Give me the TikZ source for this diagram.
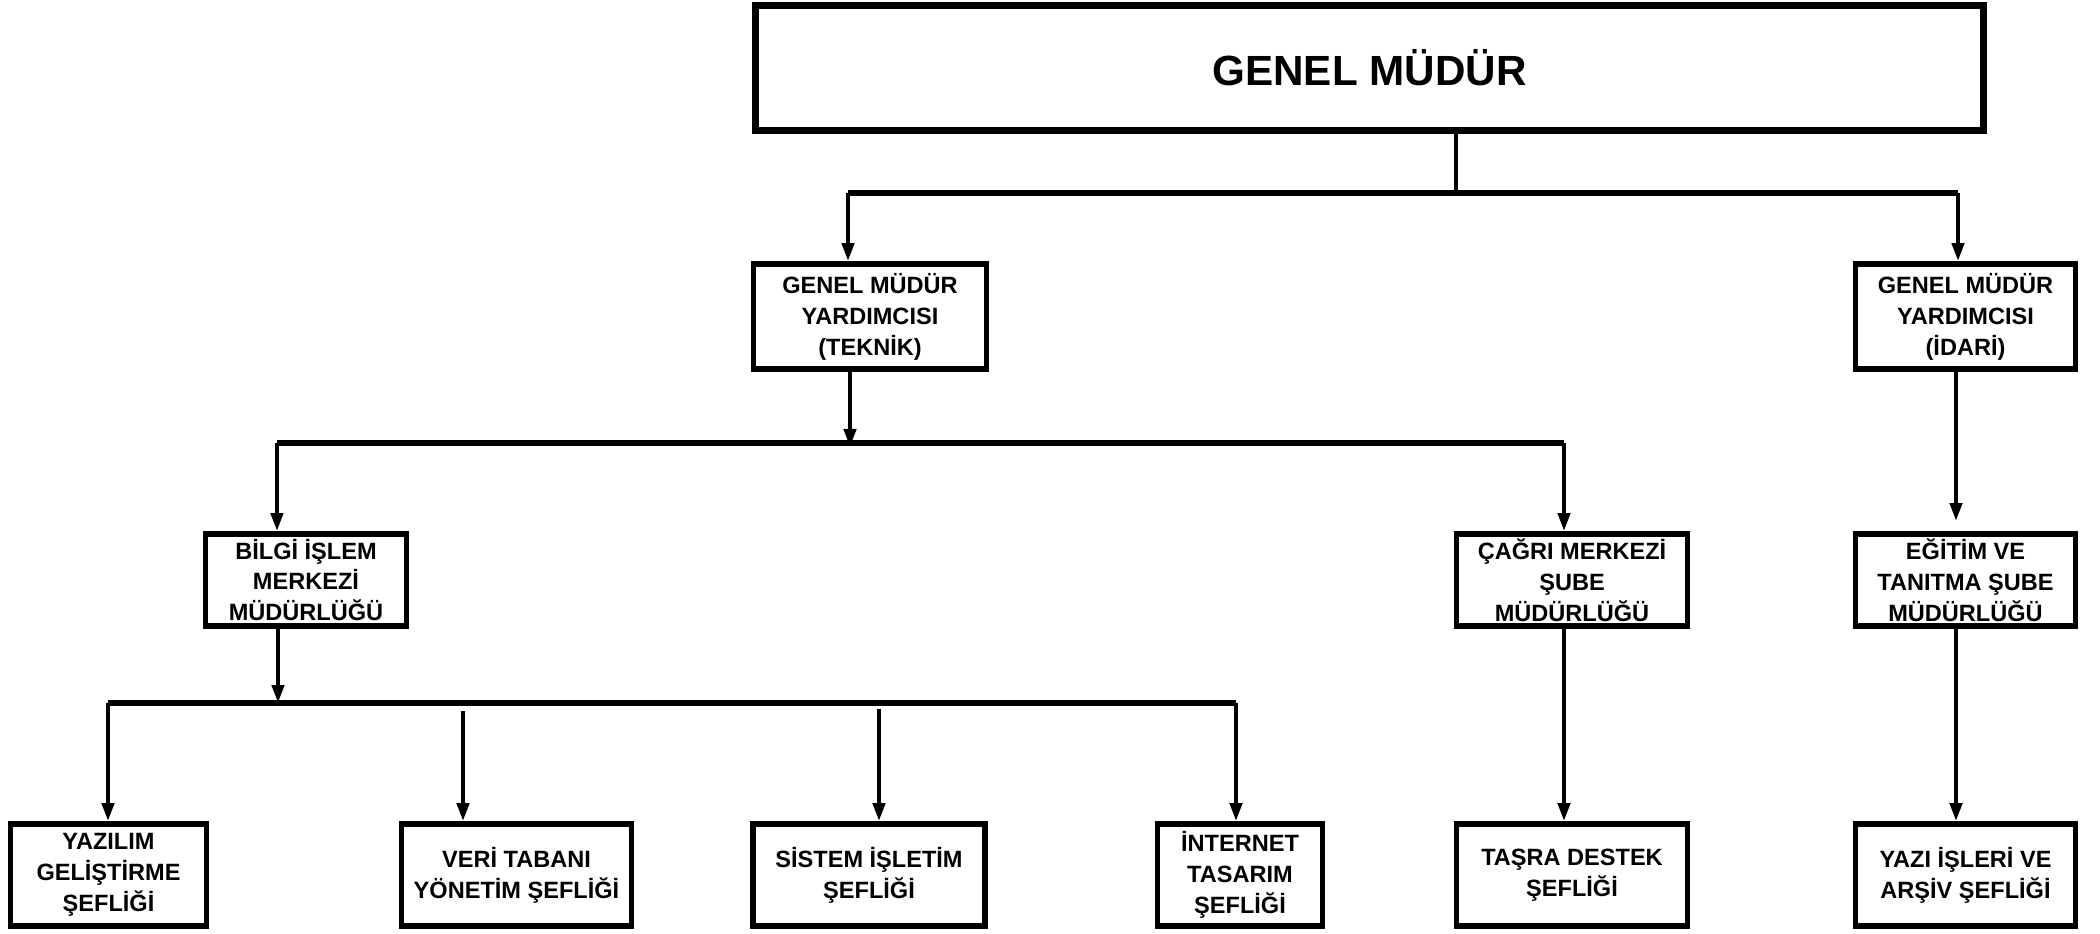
\documentclass[tikz,border=0pt]{standalone}
\usepackage{fontspec}
\setmainfont{Liberation Sans}
\usepackage{tikz}
\usetikzlibrary{positioning, arrows.meta, calc}

\begin{document}
\begin{tikzpicture}[
    x=0.01cm, y=-0.01cm,
    every node/.style={align=center, font=\bfseries\fontsize{6.7}{8.8}\selectfont, inner sep=0pt},
    box/.style={draw, line width=1.6pt, minimum height=0.92cm},
    lowbox/.style={box, minimum height=1.02cm},
    arrow/.style={-{Triangle[length=1.8mm, width=1.2mm]}, line width=1.2pt},
    bus/.style={line width=1.5pt}
]
\useasboundingbox (0,0) rectangle (2100,933);

% Spitze
\node[draw, line width=2pt, minimum width=12.28cm, minimum height=1.24cm,
      font=\bfseries\fontsize{12}{14}\selectfont] (gm) at (1369.5,68) {GENEL MÜDÜR};

% Stellvertreter
\node[box, minimum width=2.33cm, minimum height=1.05cm] (teknik) at (870,316.5) {
    GENEL MÜDÜR\\
    YARDIMCISI\\
    (TEKNİK)
};
\node[box, minimum width=2.2cm, minimum height=1.05cm] (idari) at (1965.5,316.5) {
    GENEL MÜDÜR\\
    YARDIMCISI\\
    (İDARİ)
};

% Verbindung oben
\coordinate (b1m) at (1456,193);
\coordinate (b1l) at (848,193);
\coordinate (b1r) at (1958,193);
\draw[line width=1.2pt] (gm.south -| b1m) -- (b1m);
\draw[bus] (b1l) -- (b1r);
\draw[arrow] (b1l) -- (b1l |- teknik.north);
\draw[arrow] (b1r) -- (b1r |- idari.north);

% Mittlere Ebene
\node[box, minimum width=2.01cm] (bilgi) at (306,580) {
    BİLGİ İŞLEM\\
    MERKEZİ\\
    MÜDÜRLÜĞÜ
};
\node[box, minimum width=2.31cm] (cagri) at (1572,580) {
    ÇAĞRI MERKEZİ\\
    ŞUBE\\
    MÜDÜRLÜĞÜ
};
\node[box, minimum width=2.2cm] (egitim) at (1965.5,580) {
    EĞİTİM VE\\
    TANITMA ŞUBE\\
    MÜDÜRLÜĞÜ
};

% Verbindung Teknik
\coordinate (b2m) at (850,447);
\coordinate (b2l) at (277,443);
\coordinate (b2r) at (1564,443);
\draw[arrow] (teknik.south -| b2m) -- (b2m);
\draw[bus] (b2l) -- (b2r);
\draw[arrow] (b2l) -- (b2l |- bilgi.north);
\draw[arrow] (b2r) -- (b2r |- cagri.north);

% Verbindung Idari
\coordinate (e1) at (1956,521);
\draw[arrow] (idari.south -| e1) -- (e1);

% Untere Ebene
\node[lowbox, minimum width=1.96cm] (yazilim) at (108.5,875) {
    YAZILIM\\
    GELİŞTİRME\\
    ŞEFLİĞİ
};
\node[lowbox, minimum width=2.3cm] (veri) at (516.5,875) {
    VERİ TABANI\\
    YÖNETİM ŞEFLİĞİ
};
\node[lowbox, minimum width=2.32cm] (sistem) at (869,875) {
    SİSTEM İŞLETİM\\
    ŞEFLİĞİ
};
\node[lowbox, minimum width=1.65cm] (internet) at (1240,875) {
    İNTERNET\\
    TASARIM\\
    ŞEFLİĞİ
};
\node[lowbox, minimum width=2.31cm] (tasra) at (1572,875) {
    TAŞRA DESTEK\\
    ŞEFLİĞİ
};
\node[lowbox, minimum width=2.2cm] (yazi) at (1965.5,875) {
    YAZI İŞLERİ VE\\
    ARŞİV ŞEFLİĞİ
};

% Verbindung Bilgi Islem
\coordinate (b3m) at (278,703);
\coordinate (b3l) at (108,703);
\coordinate (b3r) at (1236,703);
\coordinate (v1) at (463,711);
\coordinate (s1) at (879,709);
\draw[arrow] (bilgi.south -| b3m) -- (b3m);
\draw[bus] (b3l) -- (b3r);
\draw[arrow] (b3l) -- (b3l |- yazilim.north);
\draw[arrow] (v1) -- (v1 |- veri.north);
\draw[arrow] (s1) -- (s1 |- sistem.north);
\draw[arrow] (b3r) -- (b3r |- internet.north);

% Verbindung Sube
\draw[arrow] (cagri.south -| b2r) -- (b2r |- tasra.north);
\draw[arrow] (egitim.south -| e1) -- (e1 |- yazi.north);

\end{tikzpicture}
\end{document}
